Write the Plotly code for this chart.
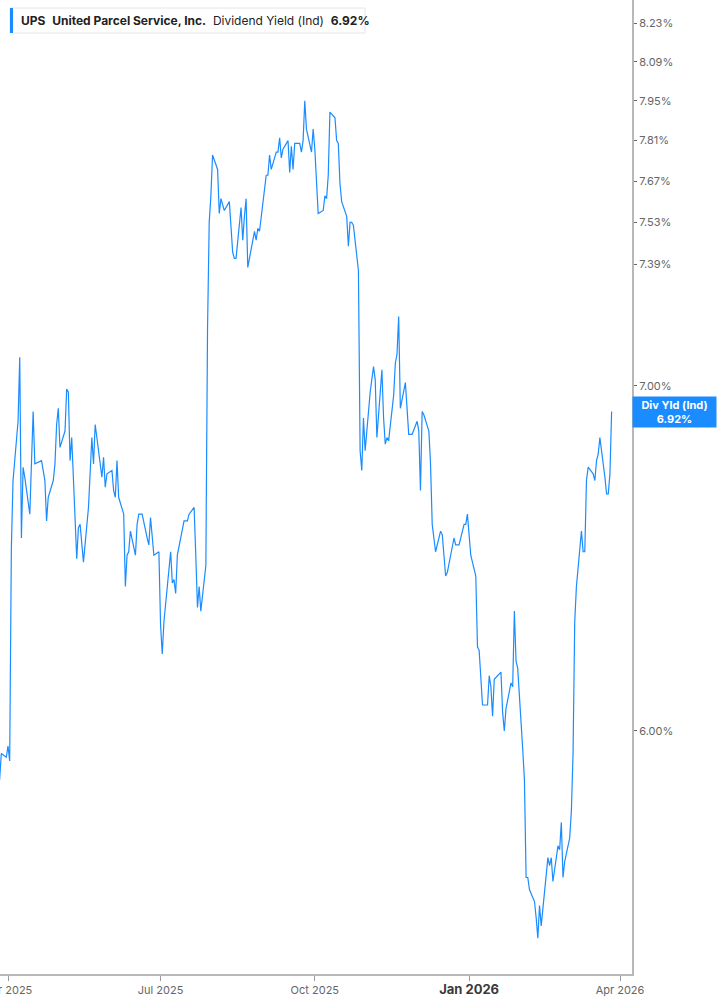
import math
import pandas as pd
import plotly.graph_objects as go

# -------------------------
# Data
# -------------------------
ticker = "UPS"
company = "United Parcel Service, Inc."
metric = "Dividend Yield (Ind)"
last_label = "6.92%"

# daily indicated dividend yield, %, one value per trading day (Mar 27 2025 -> Mar 27 2026)
yield_pct = [
    5.87, 5.94, 5.93, 5.96, 5.92, 6.51, 6.71, 6.89, 7.09, 6.54,
    6.75, 6.72, 6.61, 6.77, 6.92, 6.76, 6.77, 6.74, 6.71, 6.59,
    6.66, 6.71, 6.76, 6.88, 6.93, 6.81, 6.86, 6.99, 6.98, 6.77,
    6.84, 6.48, 6.57, 6.58, 6.53, 6.47, 6.63, 6.74, 6.84, 6.76,
    6.88, 6.72, 6.78, 6.69, 6.73, 6.74, 6.68, 6.66, 6.77, 6.66,
    6.61, 6.40, 6.49, 6.50, 6.56, 6.49, 6.58, 6.61, 6.61, 6.54,
    6.52, 6.60, 6.53, 6.49, 6.50, 6.29, 6.21, 6.30, 6.50, 6.41,
    6.42, 6.38, 6.49, 6.56, 6.59, 6.59, 6.59, 6.61, 6.63, 6.49,
    6.34, 6.40, 6.33, 6.46, 7.18, 7.53, 7.62, 7.76, 7.71, 7.56,
    7.61, 7.59, 7.57, 7.60, 7.50, 7.43, 7.41, 7.41, 7.58, 7.47,
    7.55, 7.61, 7.38, 7.48, 7.50, 7.47, 7.51, 7.50, 7.69, 7.69,
    7.76, 7.71, 7.77, 7.77, 7.82, 7.75, 7.78, 7.81, 7.70, 7.79,
    7.71, 7.80, 7.80, 7.77, 7.81, 7.95, 7.85, 7.77, 7.85, 7.78,
    7.67, 7.56, 7.57, 7.62, 7.61, 7.69, 7.91, 7.89, 7.81, 7.80,
    7.66, 7.60, 7.55, 7.45, 7.53, 7.53, 7.52, 7.37, 6.80, 6.74,
    6.90, 6.80, 6.98, 7.03, 7.06, 7.02, 6.84, 7.05, 6.90, 6.82,
    6.84, 6.83, 6.97, 7.07, 7.10, 7.22, 6.93, 7.01, 6.93, 6.85,
    6.85, 6.89, 6.86, 6.68, 6.92, 6.91, 6.86, 6.76, 6.58, 6.54,
    6.50, 6.56, 6.55, 6.49, 6.43, 6.44, 6.51, 6.54, 6.52, 6.52,
    6.58, 6.58, 6.61, 6.49, 6.43, 6.23, 6.22, 6.13, 6.07, 6.07,
    6.15, 6.12, 6.04, 6.14, 6.16, 6.05, 6.00, 6.06, 6.13, 6.12,
    6.33, 6.19, 6.17, 5.95, 5.87, 5.62, 5.62, 5.59, 5.56, 5.52,
    5.47, 5.55, 5.50, 5.67, 5.65, 5.67, 5.61, 5.70, 5.69, 5.76,
    5.62, 5.66, 5.72, 5.79, 5.94, 6.30, 6.40, 6.56, 6.50, 6.50,
    6.71, 6.75, 6.73, 6.71, 6.77, 6.79, 6.84, 6.72, 6.67, 6.67,
    6.73, 6.92,
]

# NYSE holidays inside the window
holidays = ["2025-04-18", "2025-05-26", "2025-06-19", "2025-07-04", "2025-09-01",
            "2025-11-27", "2025-12-25", "2026-01-01", "2026-01-19", "2026-02-16"]

ytick_vals = [6.00, 7.00, 7.39, 7.53, 7.67, 7.81, 7.95, 8.09, 8.23]
xtick_vals = ["2025-04-01", "2025-07-01", "2025-10-01", "2026-01-01", "2026-04-01"]
xtick_text = ["Apr 2025", "Jul 2025", "Oct 2025",
              "<b><span style='font-size:13px;color:#3a3a3a'>Jan 2026</span></b>", "Apr 2026"]

# trading days
days = pd.bdate_range("2025-03-01", "2026-03-27")
days = days[~days.isin(pd.to_datetime(holidays))]
dates = days[-len(yield_pct):]

BLUE = "#1a8cff"
FONT = "Inter, Roboto, Arial, sans-serif"
PW, PH = 632, 974  # plot area in px


def px_x(v):
    return v / PW


def px_y(v):
    return 1 - v / PH


fig = go.Figure()
fig.add_trace(go.Scatter(
    x=dates, y=yield_pct,
    mode="lines",
    line=dict(color=BLUE, width=1.2),
    hoverinfo="x+y",
    showlegend=False,
))

fig.update_layout(
    width=717, height=1005,
    margin=dict(l=0, r=85, t=0, b=31),
    paper_bgcolor="white",
    plot_bgcolor="white",
    font=dict(family=FONT, color="#666666", size=11),
    xaxis=dict(
        type="date",
        range=["2025-03-27 05:30", "2026-04-08 03:45"],
        tickvals=xtick_vals, ticktext=xtick_text,
        ticklabeloverflow="allow",
        automargin=False,
        showgrid=False, zeroline=False,
        showline=True, linecolor="#b8b8b8", linewidth=2,
        ticks="outside", ticklen=5, tickcolor="#9a9a9a", tickwidth=1,
        tickfont=dict(size=11, color="#666666"),
    ),
    yaxis=dict(
        type="log",
        side="right",
        automargin=False,
        range=[math.log10(5.383), math.log10(8.316)],
        tickvals=ytick_vals,
        ticktext=[f"{v:.2f}%" for v in ytick_vals],
        showgrid=False, zeroline=False,
        showline=True, linecolor="#b8b8b8", linewidth=2,
        ticks="outside", ticklen=3, tickcolor="#666666", tickwidth=1,
        tickfont=dict(size=11, color="#666666"),
    ),
)

# header box (top-left)
fig.add_shape(type="rect", xref="paper", yref="paper",
              x0=px_x(10), x1=px_x(365), y0=px_y(33), y1=px_y(8),
              fillcolor="white", line=dict(color="#e6e6e6", width=1))
fig.add_shape(type="rect", xref="paper", yref="paper",
              x0=px_x(10), x1=px_x(13), y0=px_y(33), y1=px_y(8),
              fillcolor=BLUE, line=dict(width=0))
fig.add_annotation(
    xref="paper", yref="paper", x=px_x(19), y=px_y(20.5),
    xanchor="left", yanchor="middle", showarrow=False, align="left",
    text=(f"<b>{ticker}</b>  <b>{company}</b>  {metric}  <b>{last_label}</b>"),
    font=dict(family=FONT, size=12, color="#222222"),
)

# last value tag on the right axis
fig.add_annotation(
    xref="paper", yref="y", x=1, y=math.log10(yield_pct[-1]),
    xanchor="left", yanchor="middle", showarrow=False,
    text=f"<b>Div Yld (Ind)<br>{last_label}</b>",
    font=dict(family=FONT, size=11, color="white"),
    bgcolor=BLUE, width=81, borderpad=1, align="center",
)

fig.write_html("out.html", config={"displayModeBar": False},
               post_script="document.body.style.margin='0';")
